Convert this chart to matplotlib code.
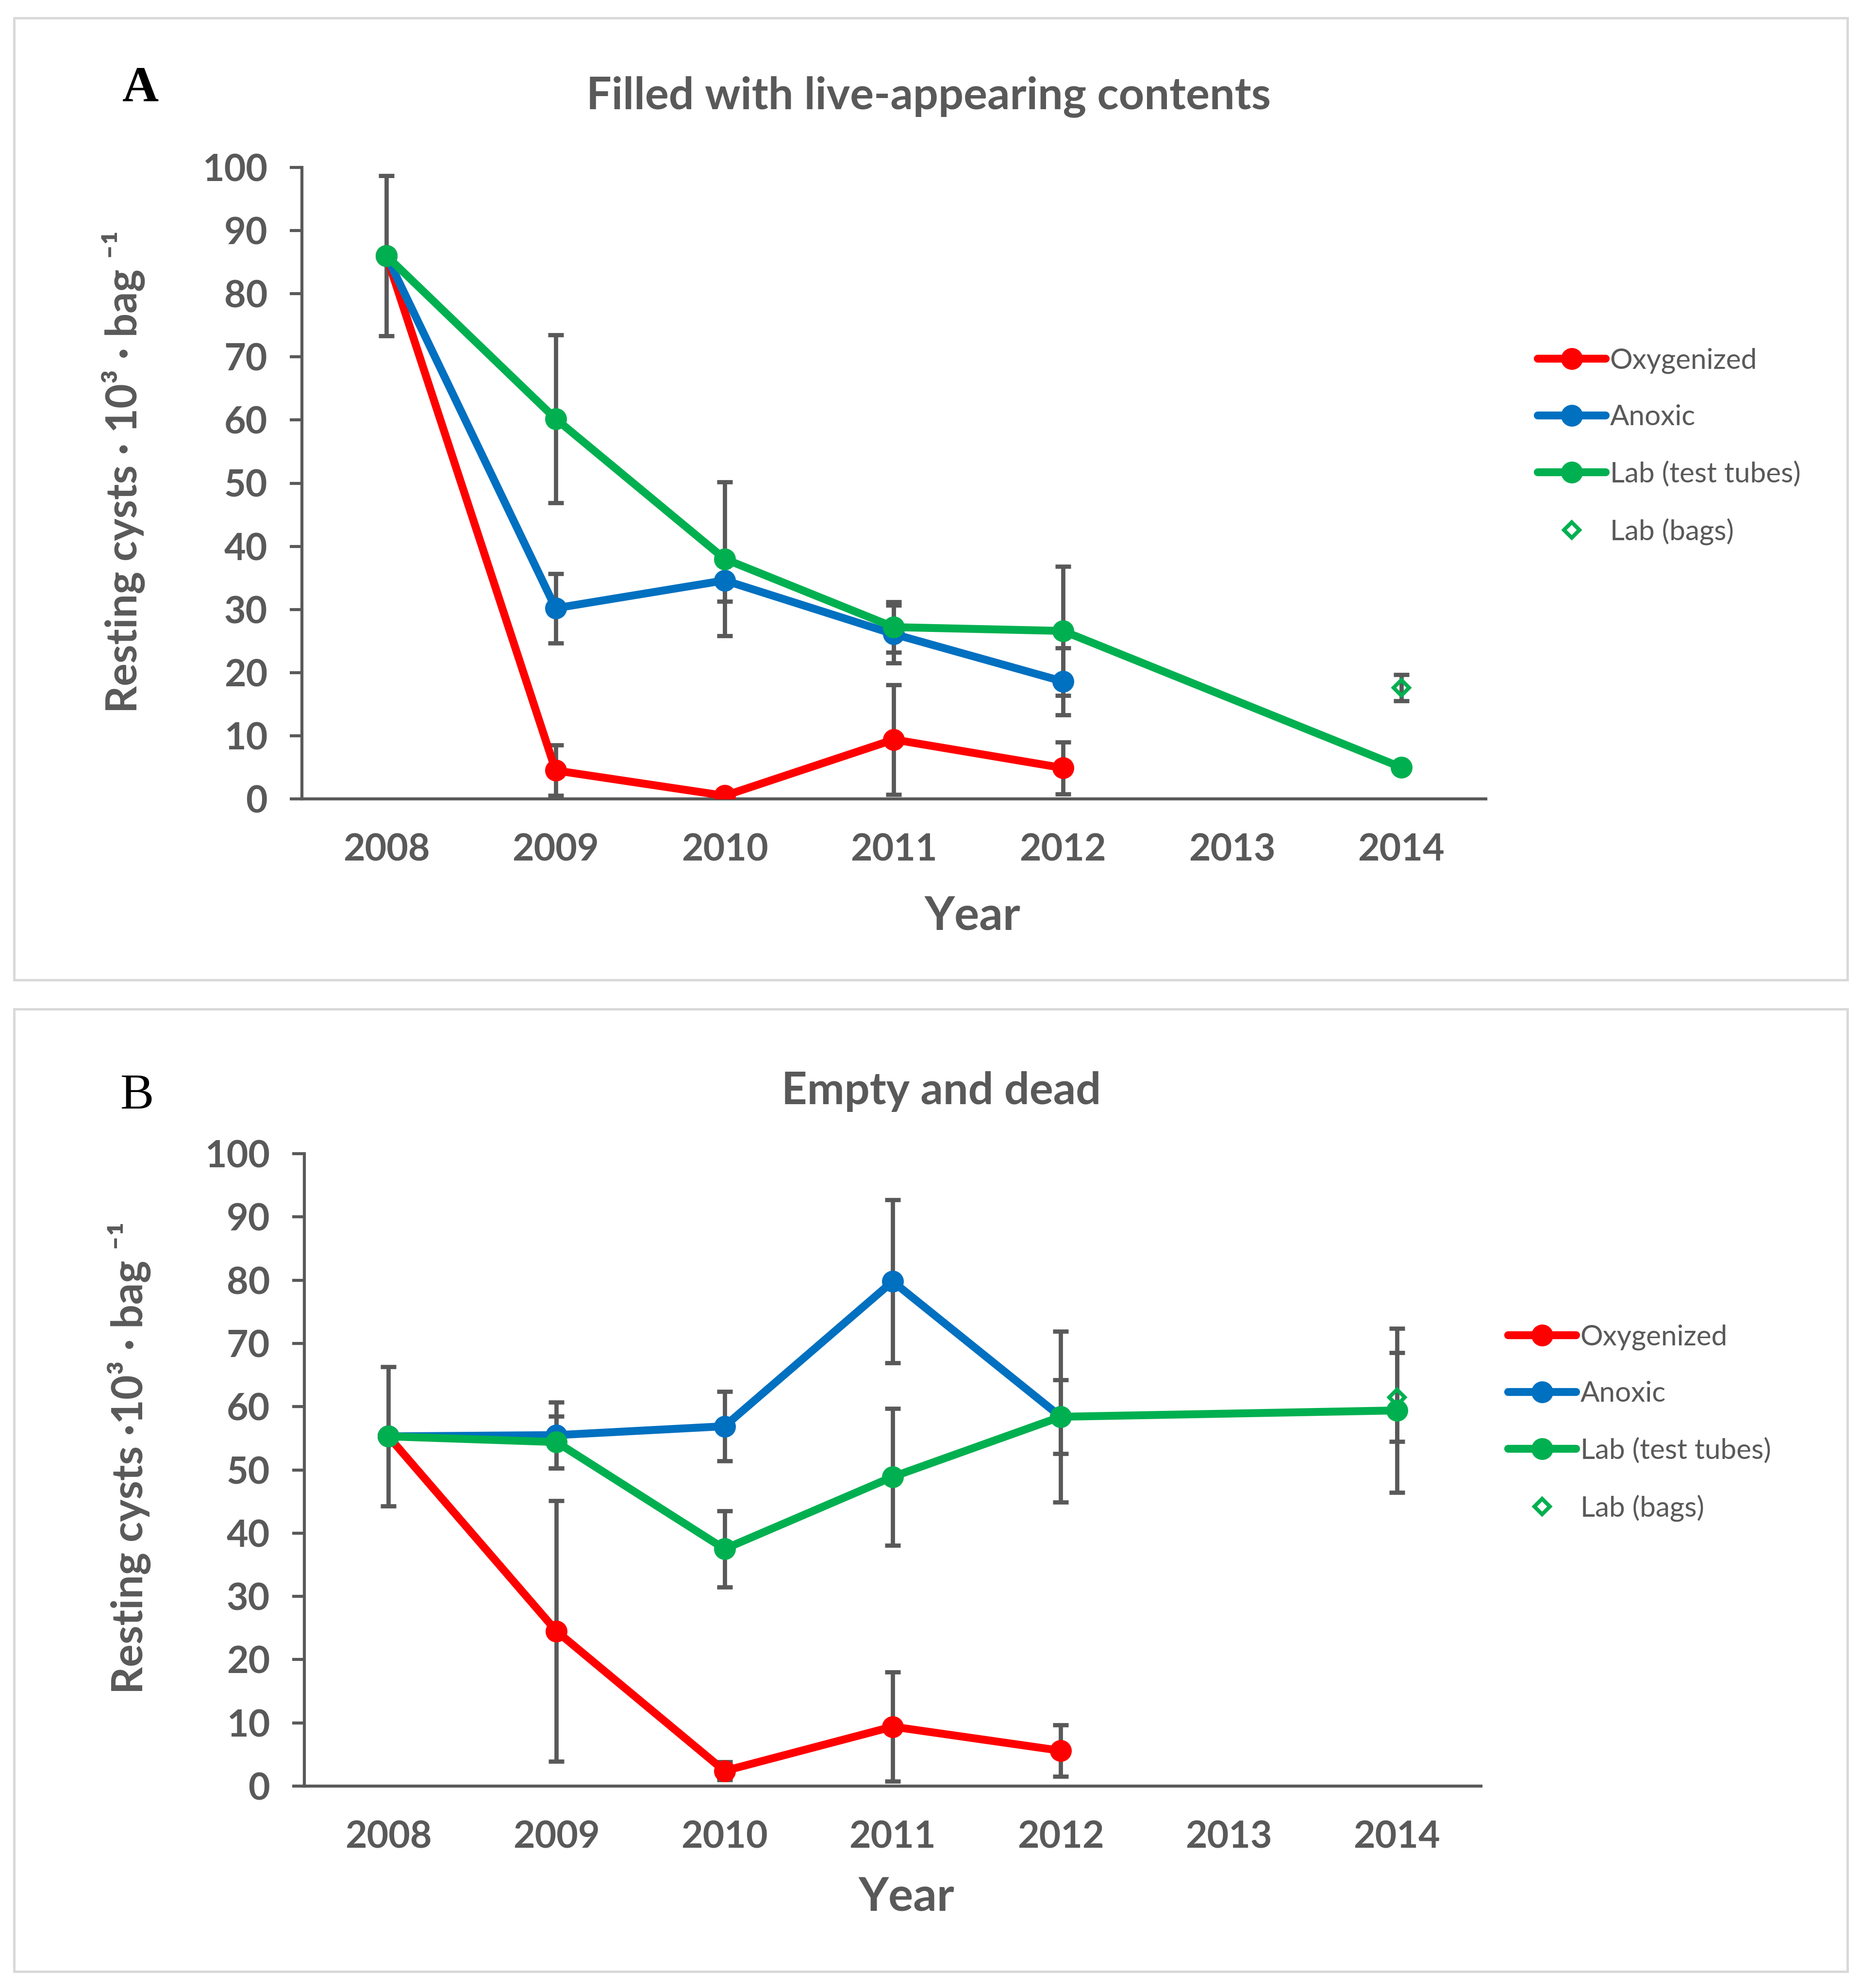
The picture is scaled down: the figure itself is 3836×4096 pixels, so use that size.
import matplotlib
matplotlib.use("Agg")
import matplotlib.pyplot as plt
from matplotlib.patches import Rectangle
import numpy as np

# ---------------- data ----------------
years_field = [2008, 2009, 2010, 2011, 2012]
years_lab = [2008, 2009, 2010, 2011, 2012, 2014]
year_ticks = [2008, 2009, 2010, 2011, 2012, 2013, 2014]
bag_year = [2014]

# Panel A: filled with live-appearing contents
A_oxy = [86.0, 4.5, 0.5, 9.4, 4.9]
A_oxy_err = [np.nan, 4.0, 0.3, 8.7, 4.1]
A_anox = [86.0, 30.2, 34.6, 26.1, 18.6]
A_anox_err = [np.nan, 5.5, 3.3, 4.6, 5.3]
A_lab = [86.0, 60.2, 38.0, 27.2, 26.6, 5.0]
A_lab_err = [12.7, 13.3, 12.2, 4.0, 10.2, np.nan]
A_bags = [17.6]
A_bags_err = [2.1]

# Panel B: empty and dead
B_oxy = [55.3, 24.5, 2.4, 9.4, 5.6]
B_oxy_err = [np.nan, 20.6, 1.4, 8.6, 4.1]
B_anox = [55.3, 55.5, 56.9, 79.8, 58.4]
B_anox_err = [np.nan, 5.2, 5.5, 12.9, 5.8]
B_lab = [55.3, 54.4, 37.5, 48.9, 58.4, 59.4]
B_lab_err = [11.0, 4.1, 6.0, 10.8, 13.5, 13.0]
B_bags = [61.5]
B_bags_err = [7.0]

labels = ["Oxygenized", "Anoxic", "Lab (test tubes)", "Lab (bags)"]
y_ticks = [0, 10, 20, 30, 40, 50, 60, 70, 80, 90, 100]

# ---------------- style ----------------
RED = "#FF0000"
BLUE = "#0070C0"
GREEN = "#00B050"
GRAY = "#595959"
BORDER = "#D9D9D9"
FONT = "Lato"

W, H = 3837, 4096
DPI = 300
fig = plt.figure(figsize=(W / DPI, H / DPI), dpi=DPI)


def fx(px):
    return px / W


def fy(py):
    return 1 - py / H


def errbars(ax, x, y, e):
    x = np.asarray(x, float)
    y = np.asarray(y, float)
    e = np.asarray(e, float)
    m = ~np.isnan(e)
    if m.any():
        ax.errorbar(x[m], y[m], yerr=e[m], fmt="none", ecolor=GRAY,
                    elinewidth=2.1, capsize=3.9, capthick=2.1, zorder=2)


def panel(box, axpos, title, title_xy, letter, letter_xy, letter_bold,
          oxy, oxy_e, anox, anox_e, lab, lab_e, bags, bags_e,
          ylabel, ylabel_xy, xlabel_xy, leg_xy):
    # border
    x0, y0, x1, y1 = box
    fig.add_artist(Rectangle((fx(x0), fy(y1)), fx(x1 - x0), (y1 - y0) / H,
                             transform=fig.transFigure, fill=False,
                             edgecolor=BORDER, linewidth=1.2))
    l, t, r, b = axpos
    ax = fig.add_axes([fx(l), fy(b), fx(r - l), (b - t) / H])

    errbars(ax, years_field, oxy, oxy_e)
    errbars(ax, years_field, anox, anox_e)
    errbars(ax, years_lab, lab, lab_e)
    errbars(ax, bag_year, bags, bags_e)

    kw = dict(lw=3.9, marker="o", ms=9.8, solid_capstyle="round")
    h1, = ax.plot(years_field, oxy, color=RED, zorder=3, label=labels[0], **kw)
    h2, = ax.plot(years_field, anox, color=BLUE, zorder=4, label=labels[1], **kw)
    h3, = ax.plot(years_lab, lab, color=GREEN, zorder=5, label=labels[2], **kw)
    h4, = ax.plot(bag_year, bags, linestyle="none", marker="D", ms=5.6,
                  mfc="none", mec=GREEN, mew=1.9, zorder=6, label=labels[3])

    ax.set_xlim(2007.5, 2014.5)
    ax.set_ylim(0, 100)
    ax.set_xticks(year_ticks)
    ax.set_xticklabels([str(v) for v in year_ticks])
    ax.set_yticks(y_ticks)
    for s in ("top", "right"):
        ax.spines[s].set_visible(False)
    for s in ("left", "bottom"):
        ax.spines[s].set_color(GRAY)
        ax.spines[s].set_linewidth(1.5)
    ax.tick_params(axis="x", length=0, pad=17, labelsize=18.5, labelcolor=GRAY)
    ax.tick_params(axis="y", length=6, width=1.5, color=GRAY, pad=11,
                   labelsize=18.5, labelcolor=GRAY, direction="out")
    for lab_t in ax.get_xticklabels() + ax.get_yticklabels():
        lab_t.set_fontfamily(FONT)
        lab_t.set_fontweight("bold")

    # y label
    ax.set_ylabel(ylabel, fontsize=21, fontweight="bold", color=GRAY,
                  family=FONT)
    ax.yaxis.label.set_verticalalignment("center")
    ax.yaxis.set_label_coords((ylabel_xy[0] - l) / (r - l),
                              (b - ylabel_xy[1]) / (b - t))
    # x label
    ax.set_xlabel("Year", fontsize=23, fontweight="bold", color=GRAY,
                  family=FONT)
    ax.xaxis.label.set_verticalalignment("center")
    ax.xaxis.set_label_coords((xlabel_xy[0] - l) / (r - l),
                              (b - xlabel_xy[1]) / (b - t))

    fig.text(fx(title_xy[0]), fy(title_xy[1]), title, fontsize=22,
             fontweight="bold", color=GRAY, family=FONT,
             ha="center", va="center")
    fig.text(fx(letter_xy[0]), fy(letter_xy[1]), letter, fontsize=25,
             fontweight="bold" if letter_bold else "normal",
             color="black", family="Liberation Serif",
             ha="center", va="center")

    leg = fig.legend(handles=[h1, h2, h3, h4], loc="upper left",
                     bbox_to_anchor=(fx(leg_xy[0]), fy(leg_xy[1])),
                     bbox_transform=fig.transFigure, frameon=False,
                     handlelength=2.4, handletextpad=0.15,
                     labelspacing=1.09, borderpad=0, borderaxespad=0,
                     prop={"family": FONT, "size": 14})
    for txt in leg.get_texts():
        txt.set_color(GRAY)
    return ax


panel(box=(29, 37, 3806, 2019), axpos=(622, 345, 3061, 1646),
      title="Filled with live-appearing contents", title_xy=(1913, 199),
      letter="A", letter_xy=(290, 183), letter_bold=True,
      oxy=A_oxy, oxy_e=A_oxy_err, anox=A_anox, anox_e=A_anox_err,
      lab=A_lab, lab_e=A_lab_err, bags=A_bags, bags_e=A_bags_err,
      ylabel="Resting cysts · 10³ · bag ⁻¹", ylabel_xy=(254, 972),
      xlabel_xy=(2004, 1889), leg_xy=(3168, 716))

panel(box=(29, 2079, 3806, 4062), axpos=(627, 2377, 3051, 3680),
      title="Empty and dead", title_xy=(1939, 2249),
      letter="B", letter_xy=(283, 2259), letter_bold=False,
      oxy=B_oxy, oxy_e=B_oxy_err, anox=B_anox, anox_e=B_anox_err,
      lab=B_lab, lab_e=B_lab_err, bags=B_bags, bags_e=B_bags_err,
      ylabel="Resting cysts ·10³ · bag ⁻¹", ylabel_xy=(266, 3004),
      xlabel_xy=(1868, 3910), leg_xy=(3107, 2728))

fig.savefig("out.png", dpi=DPI, facecolor="white")
